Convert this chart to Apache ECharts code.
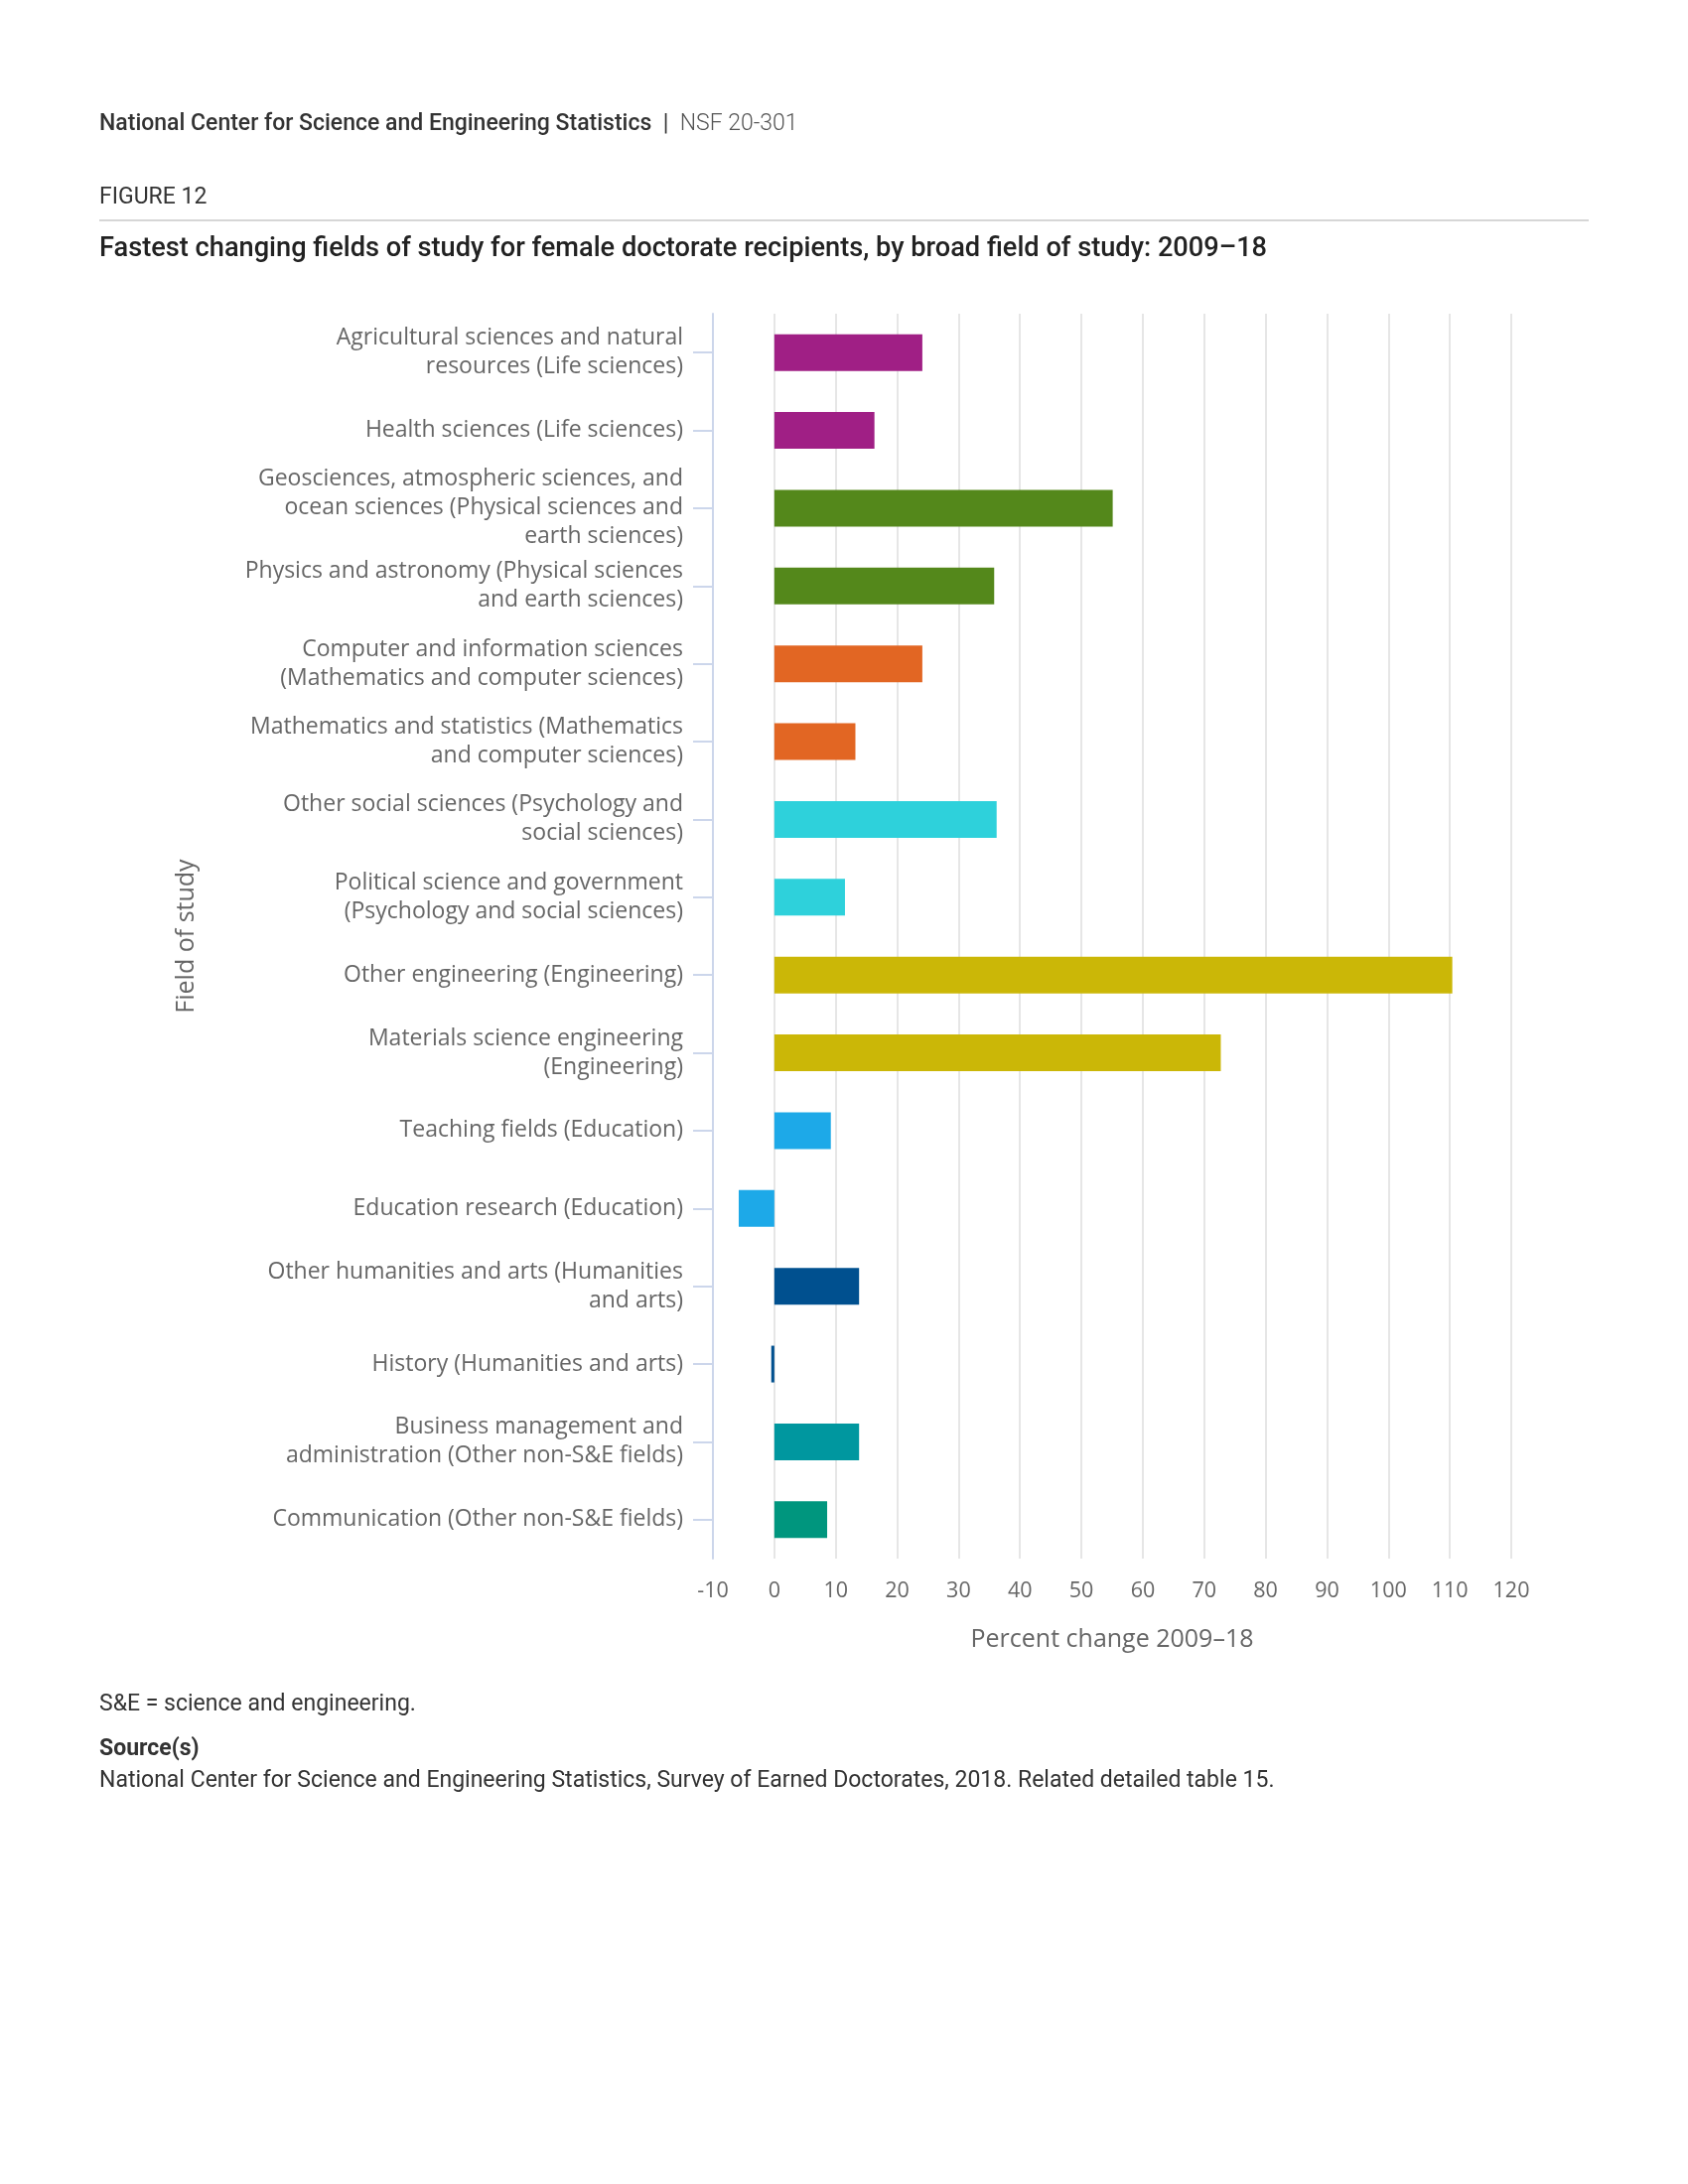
<!DOCTYPE html>
<html><head><meta charset="utf-8">
<script src="https://cdn.jsdelivr.net/npm/echarts@6/dist/echarts.min.js"></script>
<style>html,body{margin:0;padding:0;background:#fff}#c{width:1700px;height:2200px}</style>
</head><body><div id="c"></div>
<script>
const categories = [
  'Agricultural sciences and natural\nresources (Life sciences)',
  'Health sciences (Life sciences)',
  'Geosciences, atmospheric sciences, and\nocean sciences (Physical sciences and\nearth sciences)',
  'Physics and astronomy (Physical sciences\nand earth sciences)',
  'Computer and information sciences\n(Mathematics and computer sciences)',
  'Mathematics and statistics (Mathematics\nand computer sciences)',
  'Other social sciences (Psychology and\nsocial sciences)',
  'Political science and government\n(Psychology and social sciences)',
  'Other engineering (Engineering)',
  'Materials science engineering\n(Engineering)',
  'Teaching fields (Education)',
  'Education research (Education)',
  'Other humanities and arts (Humanities\nand arts)',
  'History (Humanities and arts)',
  'Business management and\nadministration (Other non-S&E fields)',
  'Communication (Other non-S&E fields)'
];
const values = [24.1, 16.3, 55.1, 35.8, 24.1, 13.2, 36.2, 11.5, 110.4, 72.7, 9.2, -5.8, 13.8, -0.5, 13.8, 8.6];
const broadFields = [
  'Life sciences', 'Life sciences',
  'Physical sciences', 'Physical sciences',
  'Math and computer', 'Math and computer',
  'Psych and social', 'Psych and social',
  'Engineering', 'Engineering',
  'Education', 'Education',
  'Humanities', 'Humanities',
  'Business', 'Communication'
];
const fieldColors = {
  'Life sciences': '#A01F85',
  'Physical sciences': '#54881B',
  'Math and computer': '#E26623',
  'Psych and social': '#2ED1DB',
  'Engineering': '#CBB707',
  'Education': '#1DA9E8',
  'Humanities': '#00508F',
  'Business': '#00979F',
  'Communication': '#00967E'
};
const xMin = -10, xMax = 120, xStep = 10;

const chart = echarts.init(document.getElementById('c'), null, {renderer: 'canvas'});
const chartFont = 'Open Sans';
const headFont = 'Roboto';

chart.setOption({
  backgroundColor: '#ffffff',
  animation: false,
  textStyle: {fontFamily: chartFont},
  grid: {left: 718, right: 178, top: 316, bottom: 630, containLabel: false},
  xAxis: {
    type: 'value', min: xMin, max: xMax, interval: xStep,
    name: 'Percent change 2009–18', nameLocation: 'middle', nameGap: 69,
    nameTextStyle: {fontFamily: chartFont, fontSize: 25, color: '#666666'},
    axisLine: {show: false}, axisTick: {show: false},
    axisLabel: {fontFamily: chartFont, fontSize: 21.5, color: '#666666', margin: 22},
    splitLine: {show: true, showMinLine: false, lineStyle: {color: '#e6e6e6', width: 2}}
  },
  yAxis: {
    type: 'category', data: categories, inverse: true,
    name: 'Field of study', nameLocation: 'middle', nameGap: 518, nameRotate: 90,
    nameTextStyle: {fontFamily: chartFont, fontSize: 25, color: '#666666'},
    axisLine: {show: true, onZero: false, lineStyle: {color: '#ccd6eb', width: 2}},
    axisTick: {show: true, alignWithLabel: true, length: 20, lineStyle: {color: '#ccd6eb', width: 2}},
    axisLabel: {fontFamily: chartFont, fontSize: 23, color: '#666666', margin: 30, lineHeight: 29, align: 'right'},
    splitLine: {show: false}
  },
  series: [{
    type: 'bar', barWidth: 37,
    data: values.map((v, i) => ({value: v, itemStyle: {color: fieldColors[broadFields[i]]}})),
    itemStyle: {borderWidth: 0}
  }],
  graphic: [
    {type: 'text', left: 100, top: 114, style: {
      text: '{b|National Center for Science and Engineering Statistics}{s|  |  }{r|NSF 20-301}',
      rich: {
        b: {fontFamily: headFont, fontSize: 23, fontWeight: 500, fill: '#333333'},
        s: {fontFamily: headFont, fontSize: 23, fontWeight: 400, fill: '#333333'},
        r: {fontFamily: headFont, fontSize: 23, fontWeight: 300, fill: '#555555'}
      }}},
    {type: 'text', left: 100, top: 187.5, style: {text: 'FIGURE 12', fontFamily: headFont, fontSize: 23, fontWeight: 400, fill: '#333333'}},
    {type: 'line', shape: {x1: 100, y1: 222, x2: 1600, y2: 222}, style: {stroke: '#d6d6d6', lineWidth: 2}},
    {type: 'text', left: 100, top: 238, style: {text: 'Fastest changing fields of study for female doctorate recipients, by broad field of study: 2009–18', fontFamily: headFont, fontSize: 27.2, fontWeight: 500, fill: '#222222'}},
    {type: 'text', left: 100, top: 1706, style: {text: 'S&E = science and engineering.', fontFamily: headFont, fontSize: 23, fontWeight: 400, fill: '#333333'}},
    {type: 'text', left: 100, top: 1751, style: {text: 'Source(s)', fontFamily: headFont, fontSize: 23, fontWeight: 700, fill: '#333333'}},
    {type: 'text', left: 100, top: 1783, style: {text: 'National Center for Science and Engineering Statistics, Survey of Earned Doctorates, 2018. Related detailed table 15.', fontFamily: headFont, fontSize: 23, fontWeight: 400, fill: '#333333'}}
  ]
});
</script></body></html>
